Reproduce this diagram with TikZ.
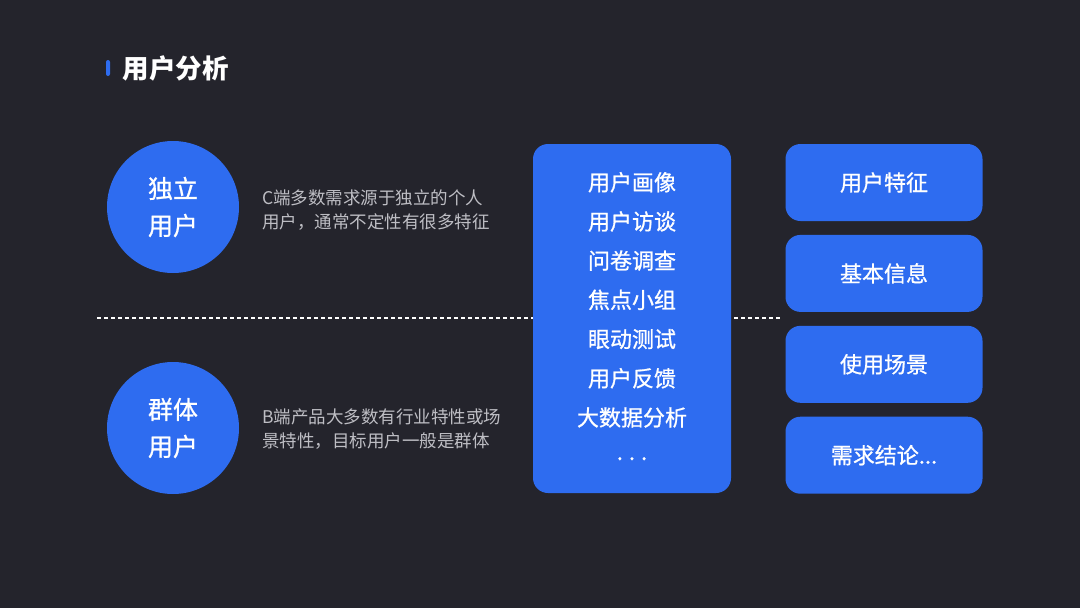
\documentclass[tikz,border=0pt]{standalone}
\usepackage{fontspec}
\setmainfont{Noto Sans CJK SC}
\newfontfamily\medfont[FakeBold=0.9]{Noto Sans CJK SC}
\usepackage{xcolor}
\usetikzlibrary{positioning}

\definecolor{bgdark}{RGB}{36,36,44}
\definecolor{brandblue}{RGB}{46,108,240}
\definecolor{notegrey}{RGB}{190,190,196}

\begin{document}
\begin{tikzpicture}[
  x=1pt, y=-1pt,
  node distance=13.5pt,
  every node/.style={text=white},
  titlebar/.style={fill=brandblue, rounded corners=2pt, minimum width=4pt, minimum height=16pt, inner sep=0pt},
  user/.style={circle, fill=brandblue, minimum size=132pt, inner sep=0pt, align=center, font=\medfont\fontsize{25}{37}\selectfont},
  note/.style={anchor=west, align=left, inner sep=0pt, text=notegrey, font=\fontsize{17.5}{24}\selectfont},
  method/.style={fill=brandblue, rounded corners=15pt, minimum width=198pt, minimum height=349pt, align=center, inner sep=0pt, font=\medfont\fontsize{22}{39.2}\selectfont},
  result/.style={fill=brandblue, rounded corners=15pt, minimum width=197pt, minimum height=77pt, align=center, inner sep=0pt, font=\medfont\fontsize{22}{26}\selectfont},
  divider/.style={draw=white, line width=2pt, dash pattern=on 3.5pt off 3.5pt}
]
\useasboundingbox[fill=bgdark] (0,0) rectangle (1080,608);

% title
\node[titlebar] (bar) at (108,68) {};
\node[anchor=west, inner sep=0pt, font=\fontsize{26.5}{30}\selectfont\bfseries] (title) at (122.5,68) {用户分析};

% divider between the two user groups
\coordinate (divl) at (97,318);
\coordinate (divr) at (782,318);
\draw[divider] (divl) -- (divr);

% user groups
\node[user] (solo) at (173,207) {独立\\用户};
\node[note] (solonote) at (262,210) {C端多数需求源于独立的个人\\用户，通常不定性有很多特征};

\node[user] (group) at (173,428) {群体\\用户};
\node[note] (groupnote) at (262,429) {B端产品大多数有行业特性或场\\景特性，目标用户一般是群体};

% methods
\node[method] (methods) at (632,318.5) {用户画像\\用户访谈\\问卷调查\\焦点小组\\眼动测试\\用户反馈\\大数据分析\\\raisebox{5pt}{.\hspace{6pt}.\hspace{6pt}.}};

% results
\node[result] (feat) at (884,182.5) {用户特征};
\node[result, below=of feat] (info) {基本信息};
\node[result, below=of info] (scene) {使用场景};
\node[result, below=of scene] (need) {需求结论...};
\end{tikzpicture}
\end{document}
